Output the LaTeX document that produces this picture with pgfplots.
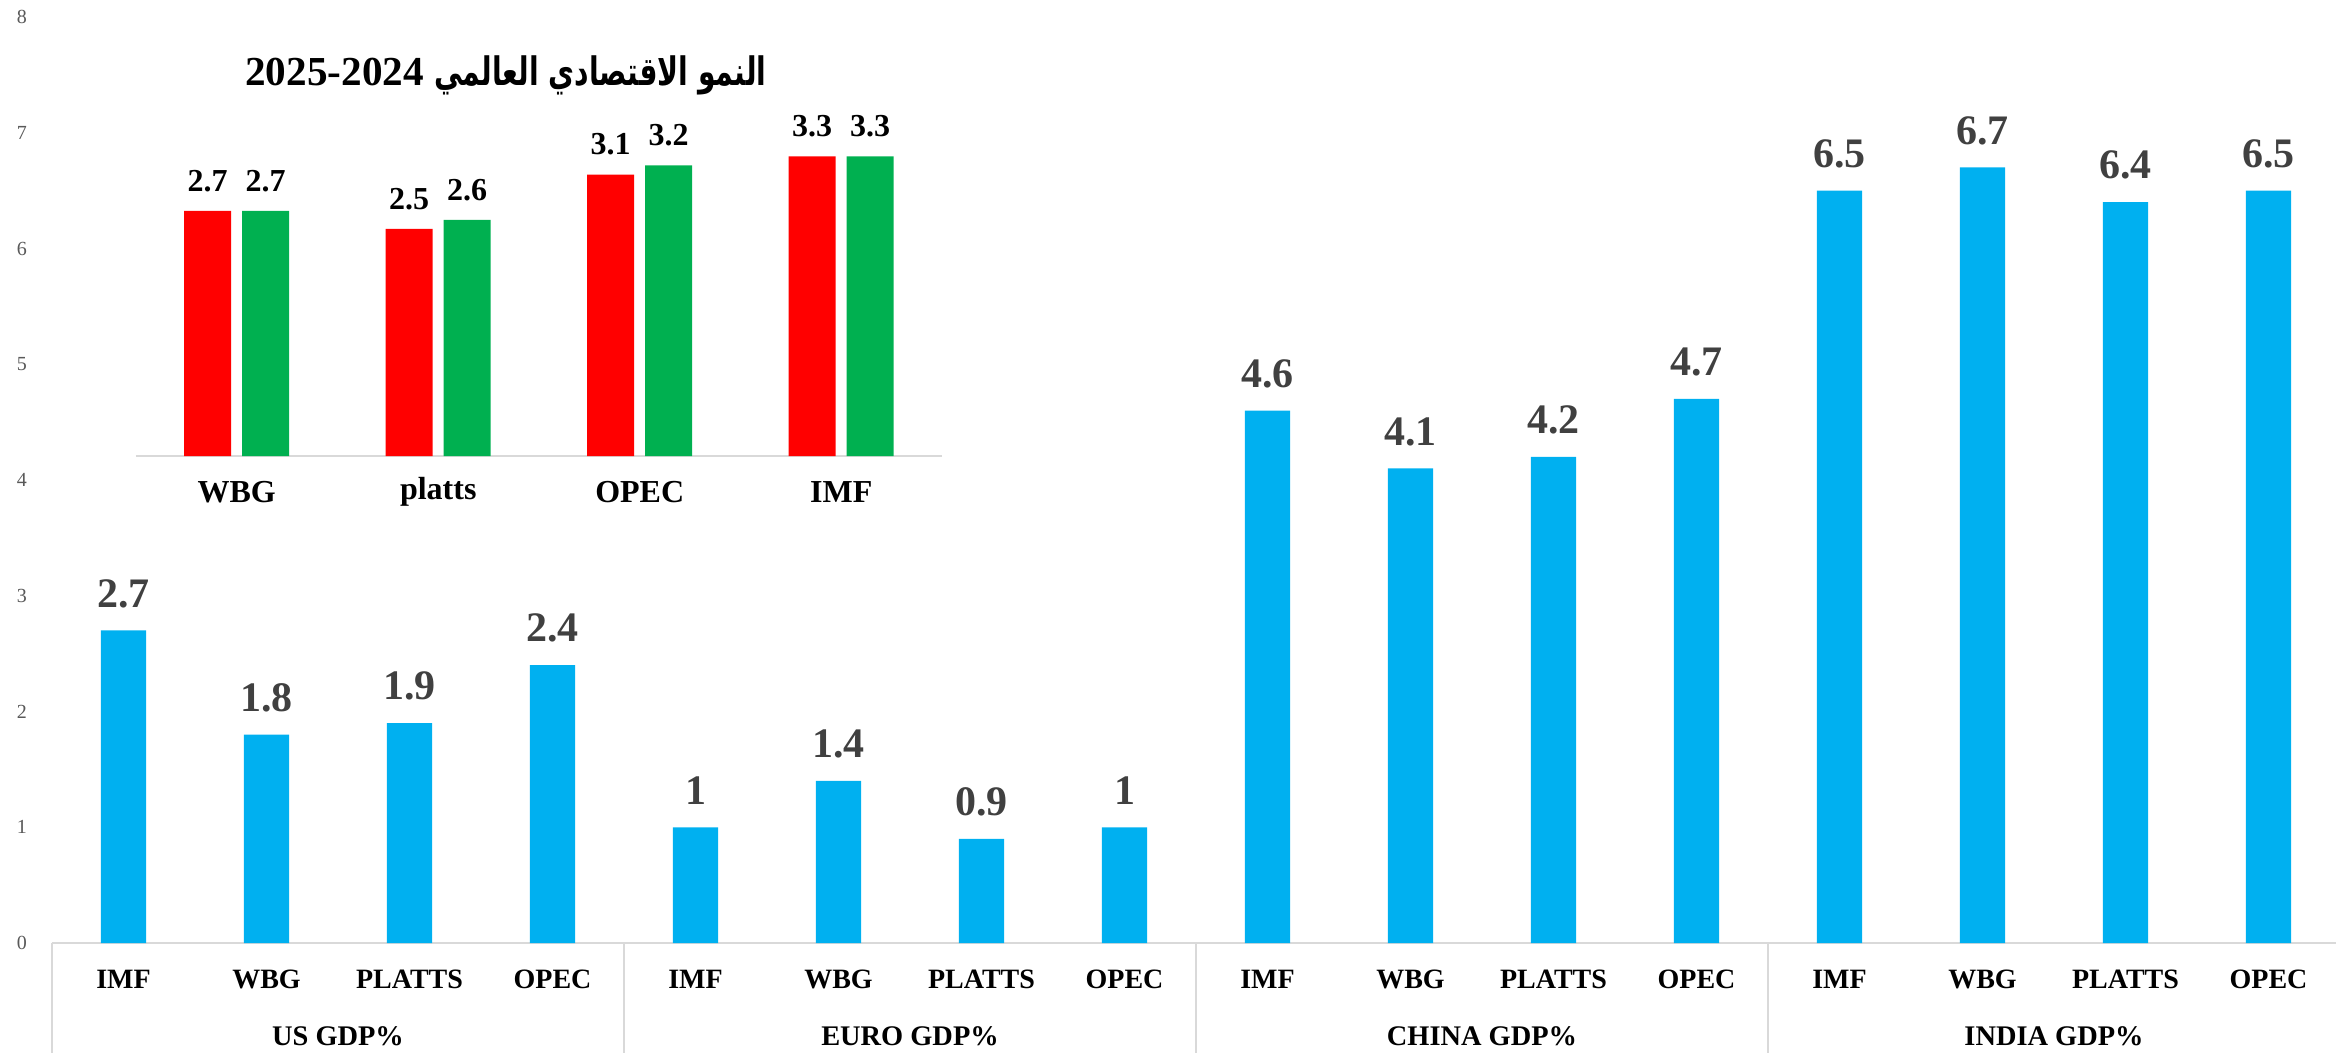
\documentclass[border=0pt]{standalone}
\usepackage{graphicx}
\usepackage{pgfplots}
\pgfplotsset{compat=1.18}
\usepackage{fontspec}
\setmainfont{Liberation Serif}
\newfontfamily\arabicfont[Script=Arabic]{DejaVu Sans}
\TeXXeTstate=1
\definecolor{barblue}{HTML}{00B0F0}
\definecolor{barred}{HTML}{FF0000}
\definecolor{bargreen}{HTML}{00B050}
\definecolor{lblgray}{HTML}{404040}
\definecolor{tickgray}{HTML}{595959}
\definecolor{linegray}{HTML}{D9D9D9}
\begin{document}
\begin{tikzpicture}
\begin{axis}[name=main, at={(0,0)}, anchor=south west, scale only axis,
  width=572pt, height=231.5pt,
  xmin=-0.5, xmax=15.5, ymin=0, ymax=8,
  ybar, bar width=0.315,
  axis lines*=left,
  every outer x axis line/.append style={-},
  every outer y axis line/.append style={-},
  y axis line style={draw=none},
  x axis line style={draw=linegray, line width=0.6pt, -},
  major tick length=0pt,
  ytick={0,...,8},
  yticklabel style={font=\fontsize{5}{6}\selectfont, text=tickgray, anchor=center, xshift=-7.5pt},
  /pgf/number format/assume math mode=true,
  xtick={0,...,15},
  xticklabels={IMF,WBG,PLATTS,OPEC,IMF,WBG,PLATTS,OPEC,IMF,WBG,PLATTS,OPEC,IMF,WBG,PLATTS,OPEC},
  xticklabel style={font=\fontsize{7}{8}\selectfont\bfseries, anchor=center, yshift=-9pt},
  nodes near coords,
  nodes near coords style={font=\fontsize{10.5}{12}\selectfont\bfseries, text=lblgray, anchor=south, inner sep=0pt, yshift=5.5pt},
  clip=false,
]
\addplot[fill=barblue, draw=none] coordinates {
  (0,2.7) (1,1.8) (2,1.9) (3,2.4)
  (4,1) (5,1.4) (6,0.9) (7,1)
  (8,4.6) (9,4.1) (10,4.2) (11,4.7)
  (12,6.5) (13,6.7) (14,6.4) (15,6.5)};
\draw[linegray, line width=0.5pt] (axis cs:-0.5,0) -- ([yshift=-27.5pt]axis cs:-0.5,0);
\draw[linegray, line width=0.5pt] (axis cs:3.5,0) -- ([yshift=-27.5pt]axis cs:3.5,0);
\draw[linegray, line width=0.5pt] (axis cs:7.5,0) -- ([yshift=-27.5pt]axis cs:7.5,0);
\draw[linegray, line width=0.5pt] (axis cs:11.5,0) -- ([yshift=-27.5pt]axis cs:11.5,0);
\draw[linegray, line width=0.5pt] (axis cs:15.5,0) -- ([yshift=-27.5pt]axis cs:15.5,0);
\node[font=\fontsize{7.1}{8}\selectfont\bfseries] at ([yshift=-23.25pt]axis cs:1.5,0) {US GDP\%};
\node[font=\fontsize{7.1}{8}\selectfont\bfseries] at ([yshift=-23.25pt]axis cs:5.5,0) {EURO GDP\%};
\node[font=\fontsize{7.1}{8}\selectfont\bfseries] at ([yshift=-23.25pt]axis cs:9.5,0) {CHINA GDP\%};
\node[font=\fontsize{7.1}{8}\selectfont\bfseries] at ([yshift=-23.25pt]axis cs:13.5,0) {INDIA GDP\%};
\end{axis}
\begin{axis}[name=inset, at={(21pt,121.75pt)}, anchor=south west, scale only axis,
  width=201.5pt, height=90.8pt,
  xmin=-0.5, xmax=3.5, ymin=0, ymax=4,
  ybar=2.75pt, bar width=11.75pt,
  axis x line*=bottom, axis y line=none,
  every outer x axis line/.append style={-},
  x axis line style={draw=linegray, line width=0.6pt, -},
  major tick length=0pt,
  xtick={0,1,2,3},
  xticklabels={WBG,platts,OPEC,IMF},
  xticklabel style={font=\fontsize{8}{9}\selectfont\bfseries, anchor=center, yshift=-9pt},
  /pgf/number format/assume math mode=true,
  nodes near coords,
  nodes near coords style={font=\fontsize{8}{9}\selectfont\bfseries, text=black, anchor=south, inner sep=0pt, yshift=4.6pt},
  clip=false,
]
\addplot[fill=barred, draw=none] coordinates {(0,2.7) (1,2.5) (2,3.1) (3,3.3)};
\addplot[fill=bargreen, draw=none] coordinates {(0,2.7) (1,2.6) (2,3.2) (3,3.3)};
\end{axis}
\node[inner sep=0pt, anchor=base] at (113.5pt,214.5pt) {\fontsize{10.3}{12}\selectfont\bfseries 2025-2024 \scalebox{0.72}[1]{\fontsize{9.8}{12}\selectfont\arabicfont\bfseries\beginR النمو الاقتصادي العالمي\endR}};
\pgfresetboundingbox
\path (-13pt,-27.25pt) rectangle (571pt,235.75pt);
\end{tikzpicture}
\end{document}
